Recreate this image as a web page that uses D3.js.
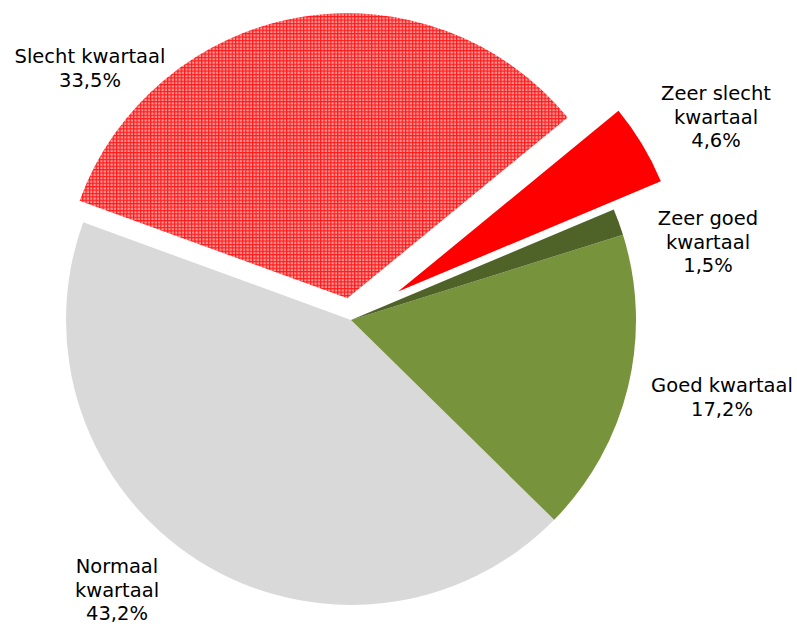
<!DOCTYPE html>
<html>
<head>
<meta charset="utf-8">
<script src="https://cdn.jsdelivr.net/npm/d3@7"></script>
<style>
    body { margin: 0; background: #fff; }
    svg { display: block; }
    text { font-family: "DejaVu Sans", Verdana, sans-serif; font-size: 19.5px; fill: #000; }
</style>
</head>
<body>
<svg id="chart" width="797" height="624"></svg>
<script>
// data, in the order Excel stacks them (counter clockwise)
var categories = ["Zeer slecht kwartaal", "Slecht kwartaal", "Normaal kwartaal", "Goed kwartaal", "Zeer goed kwartaal"];
var shares = [4.6, 33.5, 43.2, 17.2, 1.5];
var shareLabels = ["4,6%", "33,5%", "43,2%", "17,2%", "1,5%"];
var labelLines = [
    ["Zeer slecht", "kwartaal"],
    ["Slecht kwartaal"],
    ["Normaal", "kwartaal"],
    ["Goed kwartaal"],
    ["Zeer goed", "kwartaal"]
];

// look
var colors = ["#ff0000", "url(#smallGrid)", "#d9d9d9", "#77933c", "#4f6228"];
var explode = [55, 22, 0, 0, 0];
var labelPos = [[716, 100], [90, 63], [117, 573], [722, 392], [708, 225]];

var cx = 351,
    cy = 320,
    radius = 285;
var startDeg = 67.2;

var svg = d3.select("#chart");

// red small grid pattern for "Slecht kwartaal"
var pat = svg.append("defs").append("pattern")
    .attr("id", "smallGrid")
    .attr("patternUnits", "userSpaceOnUse")
    .attr("width", 3.4)
    .attr("height", 3.4);
pat.append("rect")
    .attr("width", 3.4)
    .attr("height", 3.4)
    .attr("fill", "#ff9a9a");
pat.append("rect")
    .attr("width", 1.2)
    .attr("height", 3.4)
    .attr("fill", "#ff1a1a");
pat.append("rect")
    .attr("width", 3.4)
    .attr("height", 1.2)
    .attr("fill", "#ff1a1a");

var rad = Math.PI / 180;
var pie = d3.pie()
    .sort(null)
    .value(function (d) { return d; })
    .startAngle(startDeg * rad)
    .endAngle((startDeg - 360) * rad);

var arc = d3.arc()
    .innerRadius(0)
    .outerRadius(radius);

var arcs = pie(shares);

var g = svg.append("g")
    .attr("transform", "translate(" + cx + "," + cy + ")");

g.selectAll("path")
    .data(arcs)
    .enter()
    .append("path")
    .attr("d", arc)
    .attr("fill", function (d, i) { return colors[i]; })
    .attr("transform", function (d, i) {
        var mid = (d.startAngle + d.endAngle) / 2;
        var dx = Math.sin(mid) * explode[i],
            dy = -Math.cos(mid) * explode[i];
        return "translate(" + dx + "," + dy + ")";
    });

// labels
var lineH = 23.5;
categories.forEach(function (c, i) {
    var lines = labelLines[i].concat([shareLabels[i]]);
    var t = svg.append("text")
        .attr("text-anchor", "middle")
        .attr("x", labelPos[i][0])
        .attr("y", labelPos[i][1]);
    lines.forEach(function (l, j) {
        t.append("tspan")
            .attr("x", labelPos[i][0])
            .attr("dy", j === 0 ? 0 : lineH)
            .text(l);
    });
});
</script>
</body>
</html>
